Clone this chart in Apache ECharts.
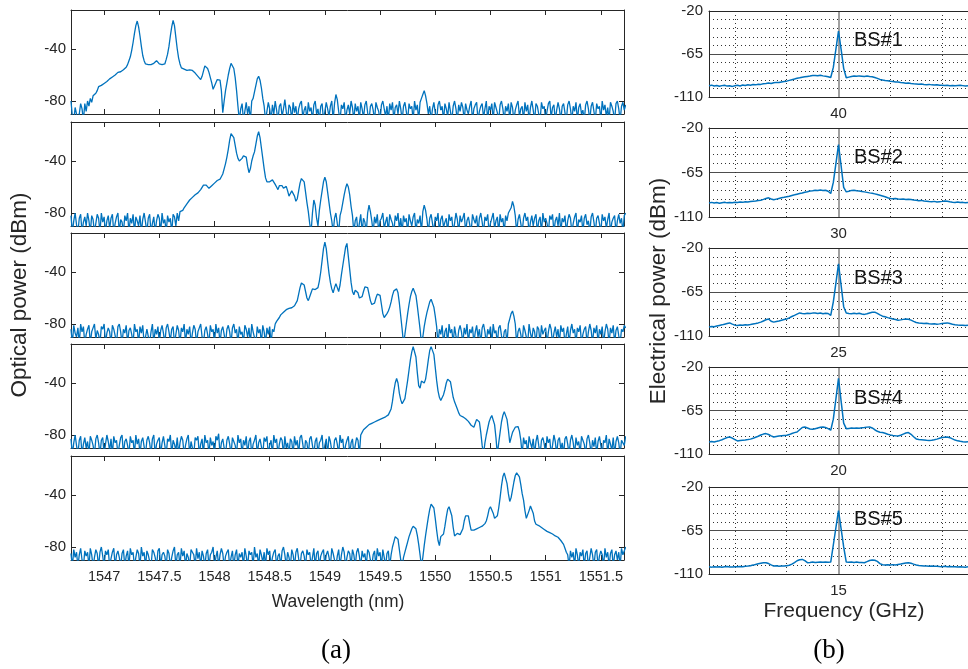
<!DOCTYPE html>
<html>
<head>
<meta charset="utf-8">
<title>Optical and electrical spectra</title>
<script src="https://cdn.jsdelivr.net/npm/echarts@6.0.0/dist/echarts.min.js"></script>
<style>
  html, body { margin: 0; padding: 0; background: #fff; }
  #chart { width: 968px; height: 669px; }
</style>
</head>
<body>
<div id="chart"></div>
<script>
// sampling grid of the traces
const wlStart = 1546.7, wlStep = 0.0125;  // nm
const offStart = -2.5, offStep = 0.05;    // divisions from the centre frequency

const wlTicks = [1547, 1547.5, 1548, 1548.5, 1549, 1549.5, 1550, 1550.5, 1551, 1551.5];
const optTicks = [-40, -80];
const centerFreqs = [40, 30, 25, 20, 15];
const bsNames = ['BS#1', 'BS#2', 'BS#3', 'BS#4', 'BS#5'];

// optical spectra (dBm), one value per wlStep, 20 values = 0.25 nm per row
const optP1 = [
  -80,-92,-95,-85,-84,-95,-90,-82,-86,-95,-82,-88,-80,-84,-78,-81,-76,-77,-74,-72,
  -69,-69,-68,-67.5,-66.5,-66,-65,-64,-63,-62,-61.5,-61,-60,-59,-58,-57,-57.5,-57,-56,-55.5,
  -54,-52,-49,-46,-41,-35,-28,-22,-18.5,-23,-30,-38,-45,-49,-51.5,-52,-52,-52,-52,-51.5,
  -51,-49.5,-49,-50.5,-51.5,-52,-52,-52,-51.5,-48,-44,-38,-30,-23,-18,-22,-31,-40,-47,-51.5,
  -54.5,-55,-55.5,-56,-56.5,-56,-56,-56.5,-56.5,-57.5,-58.5,-59.5,-61,-62.5,-63.5,-61,-57,-53,-52,-55,
  -58,-62,-66,-71,-70,-66,-63.5,-62.5,-64,-72,-89,-80,-72,-66,-60,-55,-51,-50.5,-55,-62,
  -72,-84,-95,-86,-82,-95,-88,-81,-90,-84,-95,-80,-78,-73,-68,-63,-61,-64,-70,-78,
  -84,-95,-88,-81,-86,-95,-83,-90,-80,-87,-95,-84,-82,-92,-86,-79,-88,-95,-83,-85,
  -95,-81,-89,-84,-95,-86,-82,-80,-93,-87,-84,-95,-81,-88,-85,-95,-83,-80,-90,-86,
  -95,-84,-82,-95,-88,-81,-86,-92,-84,-80,-95,-82,-75,-79,-88,-95,-83,-86,-81,-95,
  -87,-83,-90,-80,-85,-95,-82,-88,-84,-95,-81,-86,-93,-83,-80,-89,-95,-84,-82,-87,
  -95,-81,-85,-88,-95,-83,-80,-86,-92,-84,-95,-82,-87,-81,-95,-85,-83,-90,-80,-86,
  -95,-84,-81,-88,-95,-82,-86,-84,-95,-80,-87,-83,-95,-81,-78,-75,-72,-76,-82,-90,
  -84,-95,-86,-81,-89,-95,-83,-80,-87,-84,-95,-82,-86,-92,-81,-88,-95,-84,-80,-86,
  -95,-83,-88,-81,-85,-95,-82,-87,-90,-84,-80,-95,-86,-83,-81,-95,-88,-84,-82,-93,
  -86,-80,-95,-84,-87,-82,-95,-81,-85,-89,-95,-83,-80,-86,-95,-84,-88,-82,-95,-81,
  -85,-95,-87,-83,-80,-92,-86,-84,-95,-81,-88,-83,-95,-85,-80,-87,-95,-82,-84,-90,
  -95,-81,-86,-84,-95,-88,-82,-80,-93,-85,-83,-95,-87,-81,-86,-95,-84,-82,-89,-95,
  -83,-80,-86,-95,-84,-88,-81,-95,-85,-82,-90,-87,-95,-83,-80,-86,-95,-84,-81,-88,
  -95,-82,-86,-84,-95,-80,-87,-83,-92,-85,-95,-81,-84,-88,-95,-82,-80,-86,-95,-84,
  -81,-87,-83
];
const optP2 = [
  -82,-95,-86,-80,-89,-95,-84,-81,-95,-87,-83,-90,-80,-86,-95,-82,-85,-95,-88,-81,
  -84,-95,-80,-87,-83,-95,-86,-82,-92,-84,-81,-95,-88,-83,-80,-95,-85,-87,-95,-82,
  -86,-80,-95,-84,-88,-81,-95,-83,-86,-90,-82,-95,-85,-80,-87,-95,-84,-81,-95,-88,
  -83,-95,-86,-81,-84,-95,-80,-88,-85,-95,-82,-87,-84,-95,-81,-83,-90,-80,-86,-79,
  -80,-78,-76,-74.5,-73,-71.5,-70,-69,-68,-67,-66,-65,-64.5,-63.5,-62,-60.5,-58.5,-57.5,-58.5,-60,
  -61,-60,-59,-58,-57,-56,-55,-54,-54,-53,-50,-46,-42,-37,-31,-24,-19,-17.5,-22,-28,
  -34,-38,-40,-39,-38,-36,-35,-37,-44,-49,-46,-40,-36,-33,-27,-21,-17.5,-22,-30,-38,
  -46,-53,-56,-56.5,-56,-55,-54.5,-56,-58,-60,-62,-59,-57.5,-59,-61,-60,-59.5,-63,-67,-65,
  -63,-63,-67,-71,-69,-63,-57,-53.5,-52.5,-56,-64,-72,-79,-88,-95,-80,-70,-74,-84,-90,
  -78,-70,-63,-56,-52.5,-56,-64,-72,-80,-86,-95,-84,-80,-88,-95,-82,-78,-72,-66,-61,
  -57.5,-60,-66,-75,-82,-95,-86,-83,-95,-88,-81,-95,-84,-87,-95,-80,-74,-79,-86,-95,
  -83,-88,-81,-95,-86,-84,-80,-92,-87,-83,-95,-81,-85,-88,-95,-82,-86,-80,-93,-84,
  -95,-82,-87,-84,-95,-81,-86,-90,-83,-80,-95,-85,-88,-82,-95,-79,-74,-78,-85,-95,
  -84,-81,-88,-95,-83,-86,-80,-95,-85,-82,-91,-87,-84,-95,-81,-86,-83,-95,-88,-80,
  -85,-95,-82,-87,-84,-80,-95,-86,-83,-89,-95,-81,-85,-88,-82,-95,-84,-80,-87,-95,
  -83,-86,-81,-95,-88,-84,-80,-92,-86,-83,-95,-81,-87,-84,-95,-82,-86,-80,-80,-76,
  -71,-75,-82,-95,-85,-81,-88,-95,-84,-80,-86,-83,-95,-87,-82,-90,-84,-81,-95,-86,
  -83,-95,-80,-87,-84,-88,-95,-82,-85,-81,-95,-86,-83,-90,-80,-95,-84,-87,-82,-95,
  -86,-81,-84,-95,-88,-83,-80,-95,-85,-87,-82,-95,-84,-81,-89,-86,-95,-83,-80,-87,
  -95,-84,-82,-88,-95,-81,-86,-83,-92,-85,-80,-95,-87,-84,-82,-95,-86,-81,-88,-84,
  -95,-82,-80
];
const optP3 = [
  -84,-95,-81,-87,-90,-83,-95,-80,-86,-82,-95,-88,-84,-81,-95,-86,-83,-80,-92,-85,
  -88,-95,-82,-84,-80,-95,-87,-83,-86,-95,-81,-84,-89,-95,-82,-80,-86,-95,-84,-87,
  -81,-95,-85,-83,-88,-95,-80,-86,-84,-95,-82,-87,-81,-95,-90,-84,-83,-95,-86,-80,
  -95,-84,-88,-82,-95,-85,-81,-87,-95,-83,-80,-86,-93,-84,-82,-95,-88,-81,-85,-95,
  -83,-86,-80,-95,-84,-88,-82,-95,-87,-81,-84,-95,-86,-83,-80,-90,-95,-85,-82,-88,
  -95,-81,-86,-84,-95,-80,-87,-83,-95,-85,-82,-88,-95,-84,-81,-86,-95,-83,-80,-87,
  -84,-95,-82,-88,-86,-95,-81,-84,-90,-83,-95,-80,-86,-85,-95,-82,-87,-84,-95,-81,
  -86,-95,-83,-88,-82,-95,-84,-86,-80,-78,-77,-75,-73,-72,-71,-70,-69,-68.5,-68,-68,
  -67.5,-67,-66,-65,-62,-57,-52,-48.5,-47.5,-50,-55,-60,-62,-59,-56,-53,-52,-53.5,-55,-52,
  -47,-40,-31,-22,-17,-22,-32,-41,-48,-53,-56,-52,-49,-52,-55,-50,-42,-35,-28,-21,
  -18,-28,-38,-48,-55,-57.5,-54,-53.5,-56,-60,-61.5,-59,-55,-51.5,-50.5,-52,-57,-62,-65,-66.5,
  -64,-60,-57,-56,-58,-65,-72,-75,-74,-72,-70,-67,-63,-58,-54.5,-53,-53,-56,-64,-74,
  -84,-95,-88,-80,-72,-65,-59,-55,-52.5,-53,-58,-66,-75,-84,-95,-90,-82,-76,-71,-67,
  -63,-61,-62,-67,-74,-82,-95,-84,-88,-81,-95,-86,-83,-95,-80,-87,-84,-95,-82,-89,
  -95,-85,-81,-86,-95,-83,-88,-80,-95,-84,-87,-82,-95,-86,-81,-90,-84,-95,-83,-80,
  -86,-95,-84,-88,-82,-95,-80,-87,-85,-95,-83,-81,-89,-95,-86,-84,-95,-80,-76,-72,
  -70,-74,-80,-95,-86,-83,-88,-95,-81,-85,-84,-95,-80,-87,-92,-83,-86,-95,-82,-84,
  -95,-81,-88,-85,-83,-95,-86,-80,-84,-95,-87,-82,-90,-84,-95,-81,-86,-83,-95,-88,
  -82,-95,-85,-80,-87,-84,-95,-83,-86,-81,-95,-88,-84,-82,-95,-86,-80,-85,-95,-83,
  -87,-81,-95,-84,-88,-82,-95,-86,-80,-84,-95,-83,-87,-81,-95,-85,-82,-89,-95,-84,
  -86,-81,-83
];
const optP4 = [
  -83,-95,-86,-80,-88,-95,-84,-81,-95,-87,-82,-90,-85,-95,-81,-84,-88,-95,-83,-80,
  -86,-95,-84,-82,-95,-87,-80,-85,-92,-83,-95,-81,-86,-84,-95,-88,-82,-80,-95,-85,
  -83,-88,-95,-81,-86,-84,-95,-80,-87,-83,-95,-85,-82,-89,-95,-84,-81,-86,-95,-83,
  -80,-95,-87,-84,-82,-95,-86,-81,-88,-95,-83,-85,-80,-95,-84,-87,-92,-82,-95,-86,
  -81,-84,-95,-88,-83,-80,-95,-85,-86,-95,-82,-84,-81,-95,-87,-83,-95,-80,-86,-84,
  -95,-82,-88,-85,-95,-81,-84,-79,-95,-86,-83,-90,-95,-84,-81,-87,-95,-82,-85,-88,
  -95,-80,-86,-83,-95,-84,-88,-81,-95,-85,-82,-95,-87,-84,-80,-95,-86,-83,-89,-95,
  -82,-85,-81,-95,-88,-84,-95,-80,-86,-83,-95,-87,-82,-84,-95,-81,-90,-86,-95,-83,
  -85,-95,-81,-88,-84,-95,-82,-80,-87,-95,-84,-86,-95,-83,-81,-88,-95,-85,-82,-95,
  -86,-84,-80,-95,-88,-83,-95,-81,-85,-92,-95,-84,-82,-87,-95,-80,-86,-83,-95,-88,
  -84,-81,-95,-86,-83,-95,-88,-82,-84,-95,-80,-78,-76,-75,-74,-73,-72,-71.5,-71,-70.5,
  -70,-69.5,-69,-68.5,-68,-67.5,-67,-66.5,-66,-65,-64.5,-63,-60,-54,-46,-40,-36.5,-40,-48,-53,
  -56,-56,-52,-45,-38,-30,-22,-16,-12,-12.5,-20,-32,-42,-44,-38.5,-38,-40,-37,-30,-22,
  -15,-12,-12.5,-18,-28,-38,-46,-51,-53.5,-52,-49,-45,-40,-37,-36.5,-39,-45,-51,-54.5,-56,
  -60,-63,-65,-65.5,-66,-66.5,-67.5,-68.5,-69.5,-71,-72.5,-73.5,-74,-71,-68,-67,-70,-78,-88,-95,
  -86,-80,-75,-70,-67,-65,-66,-72,-82,-95,-86,-78,-70,-65,-62,-63,-68,-76,-86,-82,
  -78,-76,-74,-73,-73.5,-77,-84,-95,-82,-87,-84,-95,-81,-86,-90,-83,-95,-85,-80,-88,
  -95,-84,-82,-87,-95,-81,-86,-83,-95,-88,-80,-85,-95,-84,-82,-91,-86,-95,-83,-81,
  -87,-95,-84,-80,-86,-95,-82,-88,-85,-95,-81,-84,-87,-95,-83,-80,-86,-95,-84,-89,
  -82,-95,-85,-81,-88,-95,-84,-86,-80,-95,-83,-87,-92,-82,-95,-85,-81,-86,-95,-84,
  -83,-88,-81
];
const optP5 = [
  -85,-95,-82,-88,-84,-95,-86,-81,-90,-95,-83,-87,-84,-95,-81,-86,-95,-88,-82,-85,
  -95,-84,-80,-87,-95,-83,-86,-82,-95,-89,-84,-81,-95,-86,-83,-88,-95,-85,-82,-95,
  -87,-83,-95,-81,-86,-84,-95,-88,-82,-85,-95,-80,-87,-84,-95,-83,-86,-91,-95,-82,
  -84,-88,-95,-83,-81,-95,-86,-84,-87,-95,-82,-85,-95,-88,-83,-80,-95,-86,-84,-95,
  -81,-87,-83,-95,-85,-88,-95,-82,-84,-86,-95,-81,-89,-84,-95,-83,-87,-95,-85,-82,
  -95,-86,-84,-80,-95,-88,-83,-95,-86,-81,-85,-95,-87,-84,-82,-95,-88,-83,-95,-86,
  -82,-95,-85,-88,-84,-95,-81,-87,-95,-83,-86,-84,-95,-80,-88,-85,-95,-82,-86,-92,
  -84,-95,-81,-86,-83,-95,-88,-84,-82,-95,-87,-85,-95,-83,-80,-86,-95,-84,-88,-95,
  -82,-86,-95,-84,-81,-89,-95,-85,-83,-87,-95,-82,-86,-84,-95,-88,-81,-95,-85,-83,
  -95,-87,-84,-82,-95,-86,-83,-88,-95,-81,-85,-84,-95,-87,-82,-95,-86,-80,-84,-95,
  -88,-83,-85,-95,-82,-86,-95,-84,-81,-87,-95,-83,-88,-85,-95,-82,-84,-90,-95,-86,
  -83,-95,-81,-87,-84,-95,-82,-88,-95,-85,-83,-95,-86,-80,-76,-72,-70.5,-74,-82,-90,
  -95,-88,-84,-80,-76,-72,-69,-66,-64,-63.5,-66,-71,-78,-86,-95,-88,-79,-71,-64,-57,
  -51,-47,-46.5,-50,-58,-67,-75,-79,-72,-71.5,-70,-64,-57,-51,-49,-50,-56,-65,-71.5,-70,
  -69.5,-69.5,-70.5,-70,-66,-60,-56,-54.5,-56,-62,-67,-67.5,-67,-66.5,-66,-65.5,-65,-64.5,-64,-63,
  -62,-60,-56,-51,-49,-49.5,-54,-58,-59,-56,-50,-42,-33,-26,-23,-24,-31,-39,-45,-42,
  -36,-30,-25,-23,-23,-26,-32,-39,-44,-52,-58,-57,-52,-48.5,-49,-54,-60,-62.5,-63,-63.5,
  -64.5,-65,-66,-66.5,-67.5,-68,-68.5,-69,-69.5,-70,-70.5,-71.5,-72,-72.5,-73.5,-75,-76.5,-78,-81,-84,
  -86,-95,-83,-88,-84,-95,-81,-86,-95,-84,-87,-82,-95,-85,-83,-95,-88,-81,-86,-95,
  -84,-82,-95,-87,-83,-86,-95,-81,-88,-84,-95,-85,-82,-95,-86,-83,-90,-84,-95,-81,
  -86,-83,-80
];

// electrical spectra (dBm), one value per offStep
const eleBS1 = [
  -98.2,-97.6,-98.5,-97.9,-98.8,-98.1,-97.7,-98.6,-98.3,-98.9,
  -98.2,-97.8,-98.4,-97.5,-97.9,-97.2,-97.6,-96.9,-97.3,-96.6,
  -96.8,-96.1,-95.9,-95.4,-95.8,-95.1,-94.7,-94.9,-94.2,-93.8,
  -93.4,-92.6,-91.9,-91.2,-90.4,-89.9,-89.3,-88.9,-88.5,-88.1,
  -87.6,-87.4,-87.8,-87.2,-87.9,-88.3,-88.8,-89.6,-79,-60,
  -41,-60,-80,-89.9,-89.2,-88.6,-88.1,-88.4,-87.9,-88.2,
  -88.5,-88.1,-88.6,-88.8,-89.6,-90.5,-91.6,-92.3,-92.8,-93.1,
  -93.6,-93.9,-94.2,-94.4,-94.8,-95.1,-95.5,-95.3,-95.8,-96.1,
  -96.3,-96.6,-96.4,-96.9,-97.1,-96.8,-97.3,-97.5,-97.2,-97.8,
  -97.6,-98.0,-97.7,-98.2,-97.9,-98.3,-98.0,-97.8,-98.1,-98.4,
  -98.2
];
const eleBS2 = [
  -95.8,-95.2,-95.9,-95.4,-96.0,-95.5,-95.1,-95.7,-95.3,-95.6,
  -95.0,-95.4,-94.8,-95.2,-94.6,-94.9,-94.4,-94.1,-93.8,-93.4,
  -93.0,-92.2,-91.3,-90.6,-91.8,-92.6,-91.9,-91.2,-90.5,-90.1,
  -89.6,-89.0,-88.2,-87.6,-86.9,-86.2,-85.7,-84.9,-84.4,-83.8,
  -83.4,-82.9,-83.3,-82.7,-83.1,-82.9,-84.0,-86.2,-75,-56,
  -36.7,-58,-80,-84.6,-84.0,-83.1,-82.9,-83.4,-83.8,-84.2,
  -84.6,-85.1,-85.6,-86.0,-86.6,-87.3,-88.0,-88.8,-89.6,-90.5,
  -91.3,-91.6,-91.2,-91.8,-92.1,-91.7,-92.3,-92.0,-92.4,-92.8,
  -93.1,-93.5,-93.2,-93.8,-94.1,-94.4,-94.6,-94.2,-94.8,-94.5,
  -94.2,-93.8,-94.0,-94.6,-95.0,-95.3,-94.9,-95.4,-95.2,-95.7,
  -95.4
];
const eleBS3 = [
  -100.8,-100.2,-100.6,-99.8,-99.2,-98.6,-97.9,-97.2,-96.6,-97.8,
  -98.9,-99.2,-98.7,-99.1,-98.5,-98.8,-98.3,-97.7,-97.2,-96.6,
  -95.8,-94.6,-93.4,-92.6,-94.9,-95.8,-95.2,-94.6,-93.9,-93.2,
  -92.6,-91.4,-90.1,-88.9,-87.6,-86.4,-86.9,-87.3,-86.8,-87.1,
  -86.6,-86.4,-86.9,-86.5,-87.2,-86.8,-87.0,-89.0,-75,-56,
  -36.1,-58,-80,-86.4,-86.9,-87.3,-86.8,-87.2,-86.7,-87.4,
  -87.9,-87.3,-86.5,-85.8,-85.6,-86.9,-88.4,-89.7,-90.4,-91.2,
  -91.9,-92.6,-93.2,-93.9,-93.5,-93.0,-92.6,-92.9,-93.8,-95.1,
  -96.2,-96.6,-96.9,-97.2,-97.0,-97.4,-97.7,-97.5,-97.9,-97.6,
  -97.2,-96.9,-96.6,-97.3,-98.0,-98.4,-98.7,-98.9,-99.1,-99.3,
  -99.0
];
const eleBS4 = [
  -97.6,-97.1,-97.5,-96.9,-96.2,-95.3,-94.1,-93.0,-92.4,-93.6,
  -95.2,-96.5,-96.1,-95.8,-95.5,-95.1,-94.6,-93.8,-92.7,-91.6,
  -90.3,-89.4,-88.9,-89.8,-91.2,-92.4,-91.9,-91.4,-91.1,-90.9,
  -90.7,-89.9,-88.8,-87.9,-87.2,-84.9,-82.6,-82.0,-83.1,-84.2,
  -84.5,-83.8,-83.1,-82.4,-82.0,-82.6,-83.7,-85.4,-74,-53,
  -31.8,-55,-78,-83.8,-83.5,-83.2,-83.4,-83.1,-83.3,-82.9,
  -82.6,-82.2,-82.0,-83.1,-84.9,-86.5,-87.5,-87.8,-88.6,-89.5,
  -90.2,-90.8,-91.1,-91.3,-90.6,-89.4,-88.3,-87.8,-89.6,-92.2,
  -94.4,-95.0,-95.3,-95.6,-95.9,-96.0,-95.7,-95.2,-94.6,-93.8,
  -93.0,-92.6,-92.4,-93.1,-94.4,-95.6,-96.4,-96.9,-97.3,-97.5,
  -97.4
];
const eleBS5 = [
  -102.6,-102.9,-102.4,-102.8,-102.5,-103.0,-102.6,-102.3,-102.7,-102.8,
  -102.4,-102.6,-102.2,-102.5,-102.1,-101.8,-101.4,-100.8,-100.1,-99.4,
  -98.8,-98.4,-98.3,-99.2,-100.6,-101.8,-101.5,-101.9,-101.6,-101.8,
  -101.4,-101.0,-99.8,-98.2,-96.3,-95.2,-94.9,-96.2,-98.3,-98.0,
  -97.6,-98.1,-97.8,-97.5,-97.9,-97.6,-97.8,-97.6,-80,-62,
  -44.4,-63,-82,-97.6,-97.9,-97.5,-98.0,-97.7,-98.1,-98.2,
  -98.3,-97.2,-96.1,-95.6,-95.8,-97.0,-99.2,-100.4,-100.8,-100.5,
  -100.7,-100.3,-100.6,-100.1,-99.7,-99.2,-98.7,-98.3,-98.9,-99.8,
  -100.6,-101.2,-101.5,-101.8,-101.6,-101.9,-101.8,-102.1,-101.9,-102.2,
  -102.4,-102.1,-102.5,-102.3,-102.6,-102.4,-102.8,-102.5,-102.7,-102.9,
  -102.6
];

const optSpectra = [optP1, optP2, optP3, optP4, optP5];
const eleSpectra = [eleBS1, eleBS2, eleBS3, eleBS4, eleBS5];

// layout (px)
const leftTops = [10, 122, 233, 344, 456];
const leftH = 104;
const rightTops = [11, 128, 248, 367, 487];
const rightHs = [86, 89, 88, 87, 87];

const ink = '#262626';
const blue = '#0072BD';
const font = "'Liberation Sans', Arial, sans-serif";

let myChart = echarts.init(document.getElementById('chart'), null, { renderer: 'canvas' });

let grid = [], xAxis = [], yAxis = [], series = [], graphic = [];

const boxLine = { show: true, onZero: false, lineStyle: { color: ink, width: 1 } };

// (a) optical spectra
optSpectra.forEach((vals, k) => {
  grid.push({ left: 71, width: 553, top: leftTops[k], height: leftH });
  const xBase = {
    gridIndex: k, type: 'value', min: 1546.7, max: 1551.71,
    axisLine: boxLine, splitLine: { show: false },
    axisTick: { show: true, inside: true, length: 5, customValues: wlTicks, lineStyle: { color: ink } }
  };
  xAxis.push(Object.assign({}, xBase, {
    position: 'bottom',
    axisLabel: {
      show: k === 4, customValues: wlTicks, margin: 9, color: ink,
      fontFamily: font, fontSize: 14.5, formatter: v => String(v)
    }
  }));
  xAxis.push(Object.assign({}, xBase, { position: 'top', axisLabel: { show: false } }));
  const yBase = {
    gridIndex: k, type: 'value', min: -90, max: -10,
    axisLine: boxLine, splitLine: { show: false },
    axisTick: { show: true, inside: true, length: 5, customValues: optTicks, lineStyle: { color: ink } }
  };
  yAxis.push(Object.assign({}, yBase, {
    position: 'left',
    axisLabel: { customValues: optTicks, margin: 5, color: ink, fontFamily: font, fontSize: 15 }
  }));
  yAxis.push(Object.assign({}, yBase, { position: 'right', axisLabel: { show: false } }));
  series.push({
    type: 'line', xAxisIndex: 2 * k, yAxisIndex: 2 * k,
    data: vals.map((v, i) => [wlStart + i * wlStep, v]),
    showSymbol: false, clip: true, animation: false, sampling: false,
    lineStyle: { color: blue, width: 1.3 }
  });
});

// (b) electrical spectra
eleSpectra.forEach((vals, k) => {
  const g = 5 + k;
  grid.push({ left: 709, width: 262, top: rightTops[k], height: rightHs[k] });
  // main axis: centre frequency label + solid centre grid line
  xAxis.push({
    gridIndex: g, type: 'value', min: -2.5, max: 2.5, position: 'bottom',
    axisLine: boxLine,
    axisTick: { show: false, customValues: [0] },
    axisLabel: {
      customValues: [0], margin: 9, color: ink, fontFamily: font, fontSize: 15,
      formatter: () => String(centerFreqs[k])
    },
    splitLine: { show: true, lineStyle: { color: '#808080', width: 1.5 } }
  });
  // dotted vertical grid
  xAxis.push({
    gridIndex: g, type: 'value', min: -2.5, max: 2.5, position: 'bottom',
    axisLine: { show: false }, axisLabel: { show: false },
    axisTick: { show: false, customValues: [-2, -1, 1, 2] },
    splitLine: { show: true, lineStyle: { color: '#333', width: 1, type: [1, 3] } }
  });
  xAxis.push({
    gridIndex: g, type: 'value', min: -2.5, max: 2.5, position: 'top',
    axisLine: boxLine, axisTick: { show: false }, axisLabel: { show: false }, splitLine: { show: false }
  });
  yAxis.push({
    gridIndex: g, type: 'value', min: -110, max: -20, interval: 45, position: 'left',
    axisLine: boxLine, axisTick: { show: false },
    axisLabel: { margin: 6, color: ink, fontFamily: font, fontSize: 15 },
    splitLine: { show: true, lineStyle: { color: '#4d4d4d', width: 1 } },
    minorTick: { show: false, splitNumber: 5 },
    minorSplitLine: { show: true, lineStyle: { color: '#333', width: 1, type: [1, 3] } }
  });
  yAxis.push({
    gridIndex: g, type: 'value', min: -110, max: -20, position: 'right',
    axisLine: boxLine, axisTick: { show: false }, axisLabel: { show: false }, splitLine: { show: false }
  });
  series.push({
    type: 'line', xAxisIndex: 10 + 3 * k, yAxisIndex: 10 + 2 * k,
    data: vals.map((v, i) => [offStart + i * offStep, v]),
    showSymbol: false, clip: true, animation: false,
    lineStyle: { color: blue, width: 1.5 }
  });
  graphic.push({
    type: 'text', x: 854, y: rightTops[k] + 29 + k * 0.8,
    style: { text: bsNames[k], fill: '#111', font: '20px ' + font, textVerticalAlign: 'middle' }
  });
});

// axis titles and panel tags
graphic.push(
  { type: 'text', x: 20, y: 295, rotation: Math.PI / 2,
    style: { text: 'Optical power (dBm)', fill: ink, font: '22.5px ' + font, textAlign: 'center', textVerticalAlign: 'middle' } },
  { type: 'text', x: 659, y: 291, rotation: Math.PI / 2,
    style: { text: 'Electrical power (dBm)', fill: ink, font: '22.5px ' + font, textAlign: 'center', textVerticalAlign: 'middle' } },
  { type: 'text', x: 338, y: 602,
    style: { text: 'Wavelength (nm)', fill: ink, font: '17.5px ' + font, textAlign: 'center', textVerticalAlign: 'middle' } },
  { type: 'text', x: 844, y: 611,
    style: { text: 'Frequency (GHz)', fill: ink, font: '21px ' + font, textAlign: 'center', textVerticalAlign: 'middle' } },
  { type: 'text', x: 336, y: 651,
    style: { text: '(a)', fill: '#000', font: "27px 'Liberation Serif', 'Times New Roman', serif", textAlign: 'center', textVerticalAlign: 'middle' } },
  { type: 'text', x: 829, y: 651,
    style: { text: '(b)', fill: '#000', font: "27px 'Liberation Serif', 'Times New Roman', serif", textAlign: 'center', textVerticalAlign: 'middle' } }
);

myChart.setOption({
  animation: false,
  backgroundColor: '#fff',
  grid: grid,
  xAxis: xAxis,
  yAxis: yAxis,
  series: series,
  graphic: graphic
});
</script>
</body>
</html>
